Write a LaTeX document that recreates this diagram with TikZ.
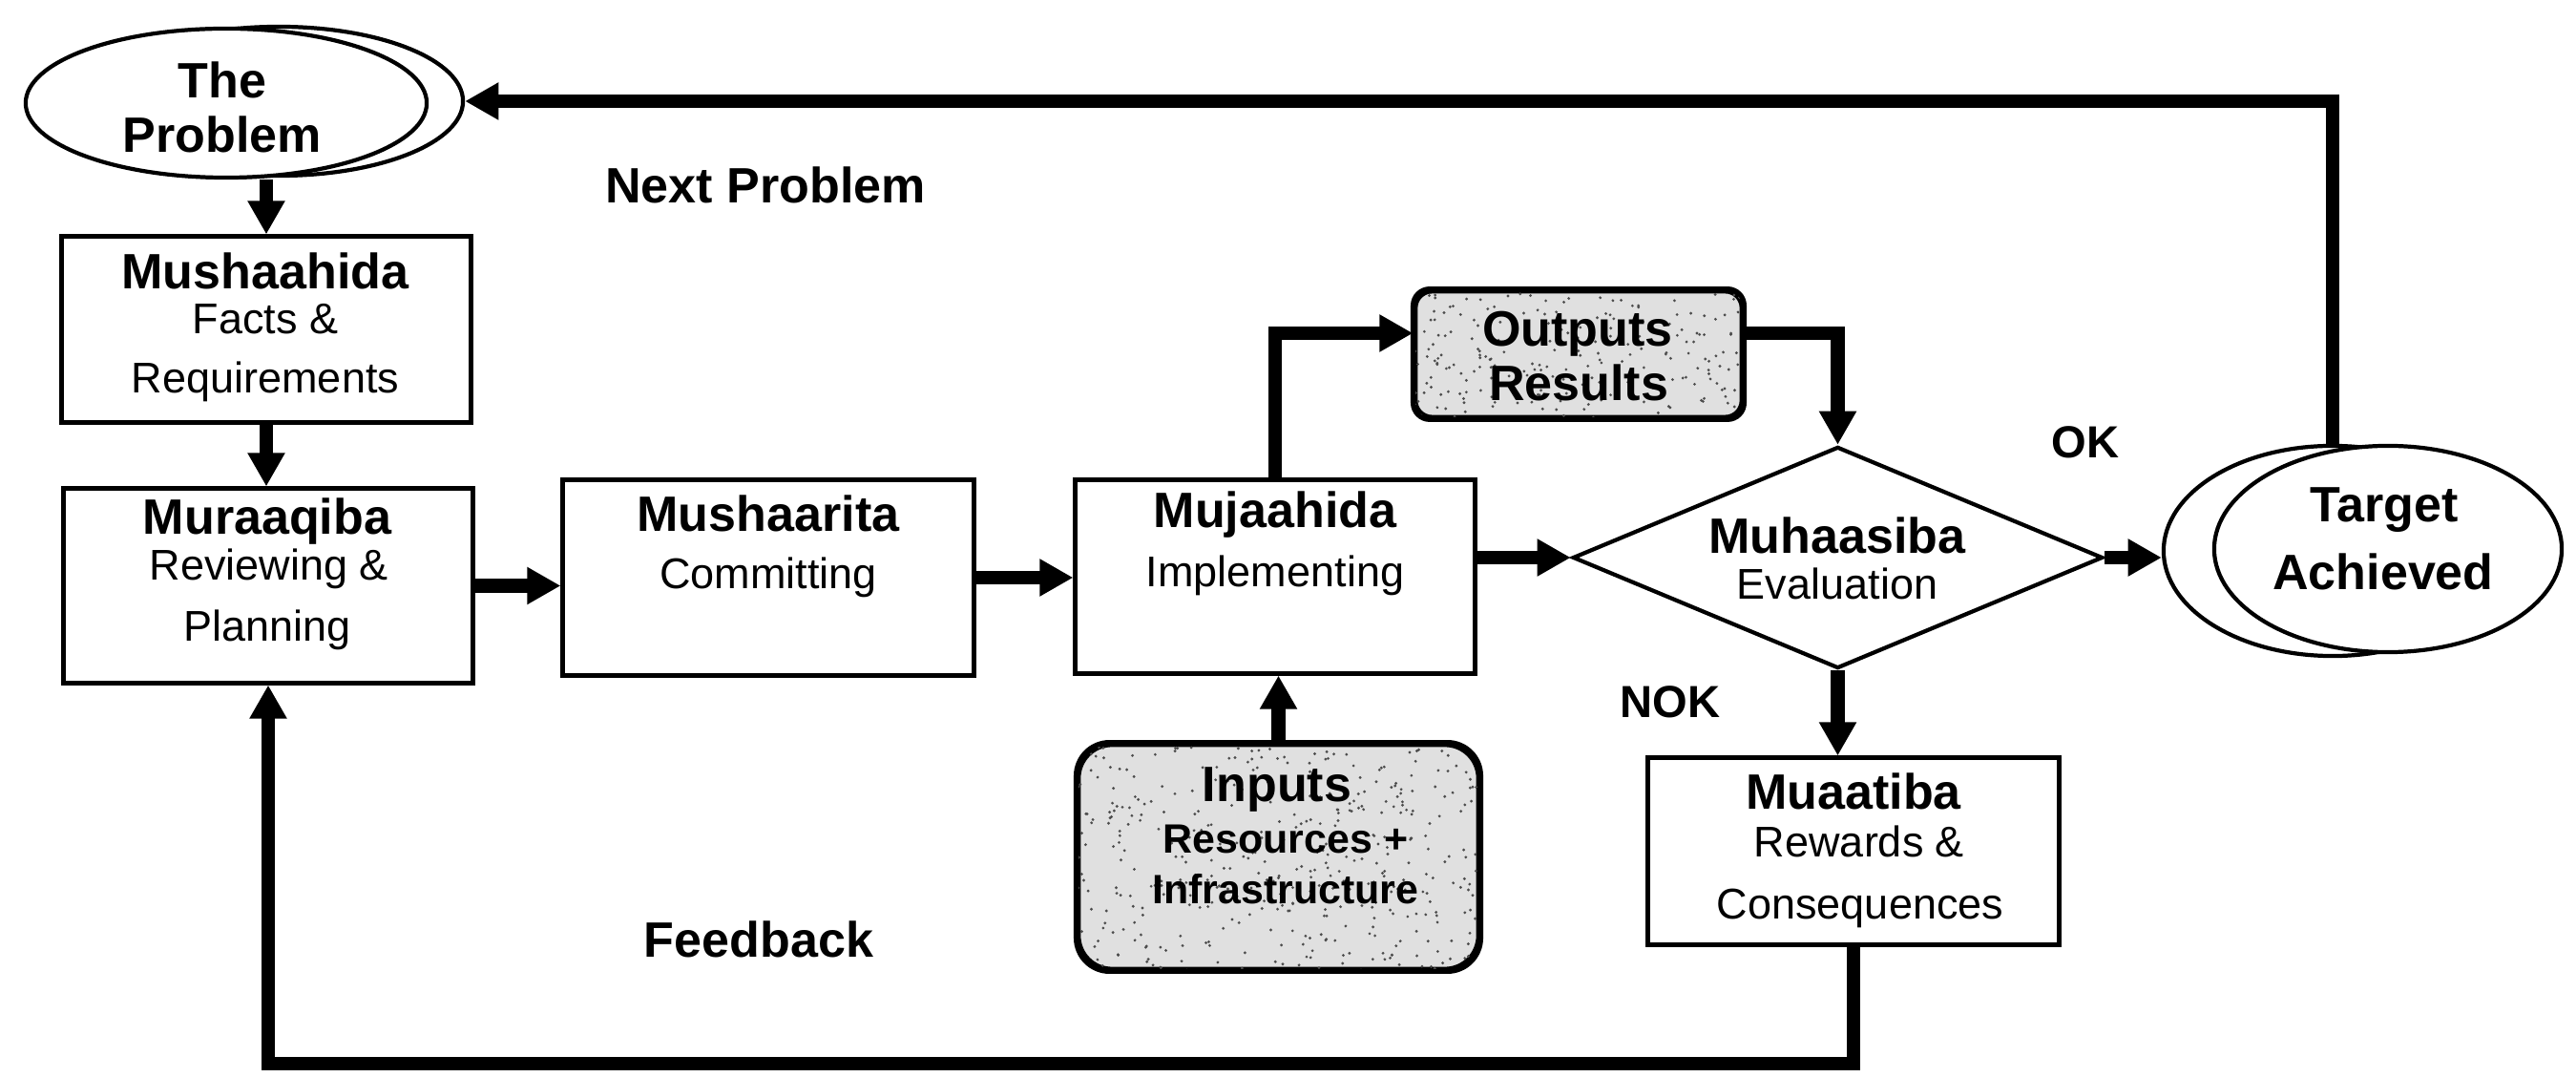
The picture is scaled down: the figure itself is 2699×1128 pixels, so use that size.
\documentclass[tikz,border=0pt]{standalone}
\usepackage{fontspec}
\setmainfont{Liberation Sans}
\usetikzlibrary{shapes.geometric,arrows.meta,calc}

% speckled grey texture inside a rounded node
\newcommand\speckle[5]{% node name, corner radius, number of specks, width, height (cm)
  \begin{scope}
    \clip[rounded corners=#2] (#1.south west) rectangle (#1.north east);
    \foreach \k in {1,...,#3}{
      \pgfmathsetmacro\fx{rnd*#4}
      \pgfmathsetmacro\fy{rnd*#5}
      \fill[black!70] ([xshift=\fx cm,yshift=\fy cm]#1.south west) circle[radius=0.45pt];
    }
  \end{scope}}

\begin{document}
\begin{tikzpicture}[x=0.01cm,y=-0.01cm,
  box/.style={draw,line width=1.4pt,inner sep=0pt,fill=white},
  oval/.style={draw,ellipse,line width=1.2pt,inner sep=0pt,fill=white},
  shaded/.style={box,rounded corners=#1,fill=black!12},
  ttl/.style={anchor=base,inner sep=0pt,font=\fontsize{14.8}{16}\selectfont\bfseries},
  sub/.style={anchor=base,inner sep=0pt,font=\fontsize{12.8}{14}\selectfont},
  subb/.style={anchor=base,inner sep=0pt,font=\fontsize{12.2}{14}\selectfont\bfseries},
  lbl/.style={anchor=base,inner sep=0pt,font=\fontsize{13.4}{15}\selectfont\bfseries},
  conn/.style={line width=4pt,line join=miter,-{Triangle[length=10pt,width=10.5pt]}},
]
\useasboundingbox[fill=white] (0,0) rectangle (2699,1128);
\pgfmathsetseed{42}

% start and end states (double ellipses)
\node[oval,minimum width=3.86cm,minimum height=1.56cm] (problem-back) at (292,106) {};
\node[oval,minimum width=4.20cm,minimum height=1.56cm] (problem) at (237,108) {};
\node[oval,minimum width=3.54cm,minimum height=2.20cm] (target-back) at (2444,577) {};
\node[oval,minimum width=3.64cm,minimum height=2.16cm] (target) at (2502,575) {};

% process boxes
\node[box,minimum width=4.28cm,minimum height=1.94cm] (mushaahida) at (279,345) {};
\node[box,minimum width=4.28cm,minimum height=2.03cm] (muraaqiba) at (281,613.5) {};
\node[box,minimum width=4.30cm,minimum height=2.04cm] (mushaarita) at (805,605) {};
\node[box,minimum width=4.18cm,minimum height=2.02cm] (mujaahida) at (1336,604) {};
\node[box,minimum width=4.30cm,minimum height=1.95cm] (muaatiba) at (1942,891.5) {};
\node[draw,diamond,line width=1.2pt,inner sep=0pt,fill=white,
      minimum width=5.55cm,minimum height=2.32cm] (diamond) at (1925.5,584) {};

% shaded data boxes
\node[shaded=5pt,minimum width=3.42cm,minimum height=1.32cm] (outputs) at (1654,371) {};
\node[shaded=10pt,minimum width=4.19cm,minimum height=2.35cm] (inputs) at (1339.5,897.5) {};
\speckle{outputs}{5pt}{220}{3.42}{1.32}
\speckle{inputs}{10pt}{420}{4.19}{2.35}
\draw[line width=1.4pt,rounded corners=5pt] (outputs.south west) rectangle (outputs.north east);
\draw[line width=1.4pt,rounded corners=10pt] (inputs.south west) rectangle (inputs.north east);

% texts
\node[ttl] (t-the) at (233,103) {The};
\node[ttl] (t-problem) at (233,160) {Problem};
\node[ttl] (l-next) at (802,213) {Next Problem};
\node[ttl] (t-mushaahida) at (278,303) {Mushaahida};
\node[sub] (s-facts) at (278,350) {Facts \&};
\node[sub] (s-req) at (278,412) {Requirements};
\node[ttl] (t-muraaqiba) at (280,560) {Muraaqiba};
\node[sub] (s-rev) at (282,608) {Reviewing \&};
\node[sub] (s-plan) at (280,672) {Planning};
\node[ttl] (t-mushaarita) at (805,557) {Mushaarita};
\node[sub] (s-commit) at (805,617) {Committing};
\node[ttl] (t-mujaahida) at (1336,553) {Mujaahida};
\node[sub] (s-impl) at (1336,615) {Implementing};
\node[ttl] (t-outputs) at (1653,363) {Outputs};
\node[ttl] (t-results) at (1654,420) {Results};
\node[ttl] (t-muhaasiba) at (1925,580) {Muhaasiba};
\node[sub] (s-eval) at (1925,628) {Evaluation};
\node[ttl] (t-target) at (2498,547) {Target};
\node[ttl] (t-achieved) at (2497,618) {Achieved};
\node[lbl] (l-ok) at (2185,480) {OK};
\node[lbl] (l-nok) at (1750,752) {NOK};
\node[ttl] (t-inputs) at (1338,840) {Inputs};
\node[subb] (s-res) at (1347,893) {Resources +};
\node[subb] (s-infra) at (1347,947) {Infrastructure};
\node[ttl] (t-muaatiba) at (1942,848) {Muaatiba};
\node[sub] (s-rew) at (1948,898) {Rewards \&};
\node[sub] (s-cons) at (1949,963) {Consequences};
\node[ttl] (l-feedback) at (795,1002) {Feedback};

% connectors
\draw[conn] (mushaahida.north |- problem.south) -- (mushaahida.north);
\draw[conn] (mushaahida.south) -- (mushaahida.south |- muraaqiba.north);
\draw[conn] (muraaqiba.east) -- (muraaqiba.east -| mushaarita.west);
\draw[conn] (mushaarita.east) -- (mushaarita.east -| mujaahida.west);
\draw[conn] (mujaahida.east |- diamond.west) -- (diamond.west);
\draw[conn] (diamond.east) -- (diamond.east -| target-back.west);
\draw[conn] (mujaahida.north) |- ($(outputs.west)+(0,-22)$);
\draw[conn] ($(outputs.east)+(0,-22)$) -| (diamond.north);
\draw[conn] (inputs.north) -- (inputs.north |- mujaahida.south);
\draw[conn] (diamond.south) -- (diamond.south |- muaatiba.north);
\draw[conn] (target-back.north) |- (problem-back.east);
\coordinate (fb) at (281,1114);
\draw[conn] (muaatiba.south) |- (fb) -- (muraaqiba.south);
\end{tikzpicture}
\end{document}
